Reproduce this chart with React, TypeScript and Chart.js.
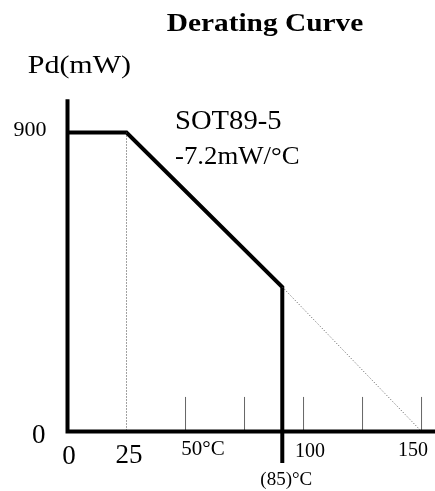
import React, { useEffect, useRef } from 'react';
import { Chart, registerables } from 'chart.js';

Chart.register(...registerables);

// ---- data ----
const TITLE = 'Derating Curve';
const Y_TITLE = 'Pd(mW)';
const PACKAGE_LABEL = 'SOT89-5';
const SLOPE_LABEL = '-7.2mW/°C';
const KNEE_LABEL = '(85)°C';

const curveX = [0, 25, 91, 91];
const curveY = [900, 900, 435, -95];
const guide25X = [25, 25];
const guide25Y = [900, 0];
const extensionX = [91, 150];
const extensionY = [435, 0];
const axisX = [0, 0, 156];
const axisY = [1000, 0, 0];
const tickMarkX = [50, 75, 100, 125, 150];
const tickMarkTop = 104;
const xLabelValues = [0, 25, 50, 100, 150];
const xLabelTexts = ['0', '25', '50°C', '100', '150'];
const yLabelValues = [0, 900];
const yLabelTexts = ['0', '900'];

// ---- styles ----
const SERIF = '"Liberation Serif", "Times New Roman", serif';
const xLabelStyle = [
  { size: 27, dx: 1.5, y: 464 },
  { size: 27, dx: 2.5, y: 463 },
  { size: 21, dx: 17.5, y: 455 },
  { size: 20, dx: 6.5, y: 457 },
  { size: 20, dx: -8.5, y: 456 },
];
const yLabelStyle = [
  { size: 27, x: 38.7, dy: 12 },
  { size: 22, x: 30, dy: 3.5 },
];

const zip = (xs: number[], ys: number[]) => xs.map((x, i) => ({ x, y: ys[i] }));

function tickSegments() {
  const pts: { x: number; y: number | null }[] = [];
  tickMarkX.forEach((x) => {
    pts.push({ x, y: 0 }, { x, y: tickMarkTop }, { x, y: null });
  });
  return pts;
}

function drawText(
  ctx: CanvasRenderingContext2D,
  text: string,
  x: number,
  y: number,
  font: string,
  align: CanvasTextAlign,
  sx = 1
) {
  ctx.save();
  ctx.font = font;
  ctx.fillStyle = '#000';
  ctx.textAlign = align;
  ctx.textBaseline = 'alphabetic';
  ctx.translate(x, y);
  ctx.scale(sx, 1);
  ctx.fillText(text, 0, 0);
  ctx.restore();
}

const textPlugin = {
  id: 'derating-text',
  afterDraw(chart: any) {
    const ctx = chart.ctx as CanvasRenderingContext2D;
    const xs = chart.scales.x;
    const ys = chart.scales.y;
    drawText(ctx, TITLE, 265, 31, `bold 26px ${SERIF}`, 'center', 1.13);
    drawText(ctx, Y_TITLE, 27.7, 73, `25px ${SERIF}`, 'left', 1.2);
    drawText(ctx, PACKAGE_LABEL, 175, 128.5, `27px ${SERIF}`, 'left', 1.06);
    drawText(ctx, SLOPE_LABEL, 175, 163.5, `26px ${SERIF}`, 'left', 1.03);
    xLabelValues.forEach((v, i) => {
      const s = xLabelStyle[i];
      drawText(ctx, xLabelTexts[i], xs.getPixelForValue(v) + s.dx, s.y, `${s.size}px ${SERIF}`, 'center');
    });
    yLabelValues.forEach((v, i) => {
      const s = yLabelStyle[i];
      drawText(ctx, yLabelTexts[i], s.x, ys.getPixelForValue(v) + s.dy, `${s.size}px ${SERIF}`, 'center');
    });
    drawText(ctx, KNEE_LABEL, xs.getPixelForValue(curveX[2]) + 4, 485, `19px ${SERIF}`, 'center');
  },
};

export default function App() {
  const canvasRef = useRef<HTMLCanvasElement | null>(null);

  useEffect(() => {
    document.body.style.margin = '0';
    const canvas = canvasRef.current;
    if (!canvas) return;
    const chart = new Chart(canvas, {
      type: 'line',
      data: {
        datasets: [
          {
            label: 'axes',
            data: zip(axisX, axisY),
            borderColor: '#000',
            borderWidth: 4,
            pointRadius: 0,
            borderJoinStyle: 'miter',
            borderCapStyle: 'butt',
          },
          {
            label: 'ticks',
            data: tickSegments() as any,
            borderColor: '#666',
            borderWidth: 1,
            pointRadius: 0,
            spanGaps: false,
          },
          {
            label: 'guide25',
            data: zip(guide25X, guide25Y),
            borderColor: '#444',
            borderWidth: 1,
            borderDash: [1, 2],
            pointRadius: 0,
          },
          {
            label: 'extension',
            data: zip(extensionX, extensionY),
            borderColor: '#555',
            borderWidth: 1,
            borderDash: [1, 2],
            pointRadius: 0,
          },
          {
            label: 'curve',
            data: zip(curveX, curveY),
            borderColor: '#000',
            borderWidth: 4,
            pointRadius: 0,
            borderJoinStyle: 'miter',
            borderCapStyle: 'butt',
          },
        ],
      },
      options: {
        animation: false,
        responsive: true,
        maintainAspectRatio: false,
        layout: { padding: 0 },
        parsing: false as any,
        plugins: {
          legend: { display: false },
          title: { display: false },
          tooltip: { enabled: false },
        },
        scales: {
          x: { type: 'linear', display: false, min: -28.6, max: 155.7 },
          y: { type: 'linear', display: false, min: -179.1, max: 1298.8 },
        },
      },
      plugins: [textPlugin],
    });
    return () => chart.destroy();
  }, []);

  return (
    <div style={{ position: 'absolute', left: 0, top: 0, width: 435, height: 491, background: '#fff' }}>
      <canvas ref={canvasRef} />
    </div>
  );
}
